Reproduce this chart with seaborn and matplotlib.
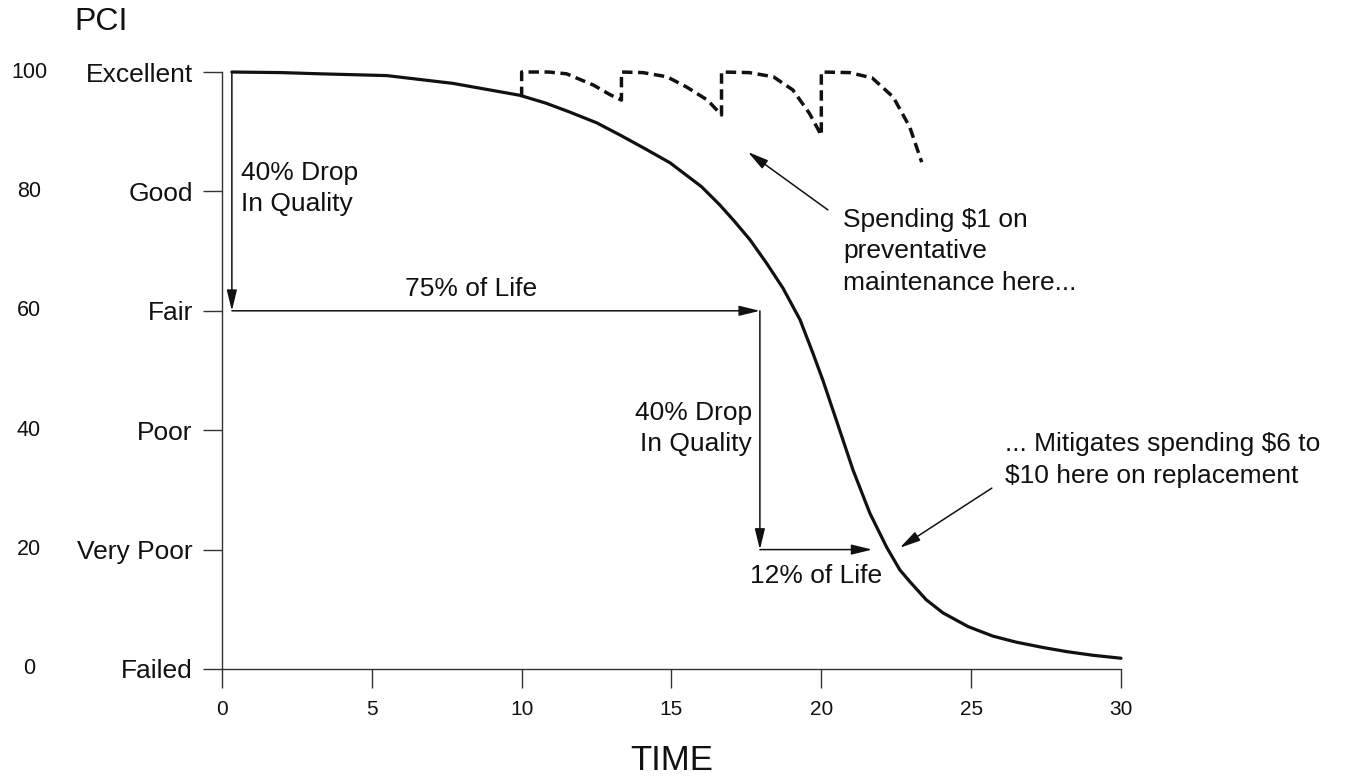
import matplotlib
matplotlib.use("Agg")
import matplotlib.pyplot as plt
import matplotlib.transforms as mtransforms
import seaborn as sns
import pandas as pd

# PCI deterioration curve
time_vals = [0.33, 2.0, 3.27, 5.5, 7.7, 9.94, 10.8, 11.6, 12.5, 13.3, 14.1, 14.95,
             16.0, 16.6, 17.1, 17.62, 18.17, 18.72, 19.29, 19.72, 20.05, 20.5, 21.06,
             21.62, 22.18, 22.62, 22.96, 23.5, 24.06, 24.9, 25.73, 26.5, 27.4, 28.2,
             29.06, 30.0]
pci_vals = [100, 99.9, 99.7, 99.4, 98.1, 96.1, 94.8, 93.3, 91.5, 89.4, 87.2, 84.8,
            80.8, 77.8, 75.0, 71.9, 68.0, 63.8, 58.5, 52.9, 48.4, 41.7, 33.3,
            26.1, 20.4, 16.6, 14.6, 11.6, 9.4, 7.1, 5.5, 4.5, 3.6, 2.9,
            2.3, 1.8]

# preventative maintenance saw-tooth (dashed)
pm_time = [10.0, 10.0, 10.9, 11.5, 12.4, 12.95, 13.33,
           13.33, 13.33, 14.05, 14.85, 15.5, 16.2, 16.67,
           16.67, 16.67, 17.6, 18.4, 19.05, 19.6, 20.0,
           20.0, 20.0, 20.95, 21.7, 22.4, 22.95, 23.35]
pm_pci = [95.8, 100, 100, 99.7, 97.8, 96.2, 95.3,
          95.3, 100, 99.9, 99.2, 97.5, 95.3, 92.8,
          92.8, 100, 99.9, 99.2, 97.0, 93.1, 89.4,
          89.4, 100, 99.9, 99.0, 95.8, 90.8, 84.9]

pci_ticks = [0, 20, 40, 60, 80, 100]
pci_names = ["Failed", "Very Poor", "Poor", "Fair", "Good", "Excellent"]
time_ticks = [0, 5, 10, 15, 20, 25, 30]

curve_df = pd.DataFrame({"TIME": time_vals, "PCI": pci_vals})
pm_df = pd.DataFrame({"TIME": pm_time, "PCI": pm_pci})

sns.set_style("ticks")
plt.rcParams["font.family"] = ["Liberation Sans", "DejaVu Sans"]

ink = "#111111"
axis_col = "#333333"

fig = plt.figure(figsize=(13.47, 7.76), dpi=100)
ax = fig.add_axes([0.1648, 0.1379, 0.6674, 0.7693])

sns.lineplot(data=curve_df, x="TIME", y="PCI", ax=ax, color=ink, lw=2.3,
             estimator=None, sort=False)
sns.lineplot(data=pm_df, x="TIME", y="PCI", ax=ax, color=ink, lw=2.5,
             estimator=None, sort=False)
ax.lines[1].set_dashes([3, 1.6])
for ln in ax.lines:
    ln.set_clip_on(False)
    ln.set_solid_joinstyle("round")

ax.set_xlim(0, 30)
ax.set_ylim(0, 100)
ax.set_xticks(time_ticks)
ax.set_yticks(pci_ticks)
ax.set_yticklabels(pci_names)
ax.set_xlabel("")
ax.set_ylabel("")
sns.despine(ax=ax)
for s in ["left", "bottom"]:
    ax.spines[s].set_color(axis_col)
    ax.spines[s].set_linewidth(1.0)
ax.tick_params(axis="both", direction="out", length=14, width=1.0, color=axis_col,
               labelcolor=ink)
ax.tick_params(axis="y", labelsize=19, pad=7)
ax.tick_params(axis="x", labelsize=15, pad=8)

# numeric PCI values at the far left
trans = mtransforms.blended_transform_factory(fig.transFigure, ax.transData)
for v in pci_ticks:
    fig.text(0.0215, v, str(v), transform=trans, ha="center", va="center",
             fontsize=15.5, color=ink)
fig.text(0.055, 0.972, "PCI", ha="left", va="center", fontsize=23, color=ink)
fig.text(0.4985, 0.02, "TIME", ha="center", va="center", fontsize=25, color=ink)

arrow = dict(arrowstyle="-|>,head_length=0.9,head_width=0.22", color=ink, lw=1.1,
             shrinkA=0, shrinkB=0, mutation_scale=14)

# first 40% drop / 75% of life
ax.annotate("", xy=(0.33, 60), xytext=(0.33, 100), arrowprops=arrow, annotation_clip=False)
ax.annotate("", xy=(17.95, 60), xytext=(0.33, 60), arrowprops=arrow)
ax.text(0.65, 80.5, "40% Drop\nIn Quality", ha="left", va="center", fontsize=19,
        color=ink, linespacing=1.35)
ax.text(8.3, 61.6, "75% of Life", ha="center", va="bottom", fontsize=19, color=ink)

# second 40% drop / 12% of life
ax.annotate("", xy=(17.95, 20), xytext=(17.95, 60), arrowprops=arrow)
ax.annotate("", xy=(21.7, 20), xytext=(17.95, 20), arrowprops=arrow)
ax.text(17.68, 40.3, "40% Drop\nIn Quality", ha="right", va="center", fontsize=19,
        color=ink, linespacing=1.35)
ax.text(19.82, 15.6, "12% of Life", ha="center", va="center", fontsize=19, color=ink)

# callouts
ax.text(20.72, 70.0, "Spending $1 on\npreventative\nmaintenance here...",
        ha="left", va="center", fontsize=19, color=ink, linespacing=1.4)
ax.annotate("", xy=(17.55, 86.6), xytext=(20.22, 76.9), arrowprops=arrow)
ax.text(26.13, 35.0, "... Mitigates spending $6 to\n$10 here on replacement",
        ha="left", va="center", fontsize=19, color=ink, linespacing=1.4)
ax.annotate("", xy=(22.62, 20.3), xytext=(25.69, 30.3), arrowprops=arrow)

fig.savefig("out.png", dpi=100)
